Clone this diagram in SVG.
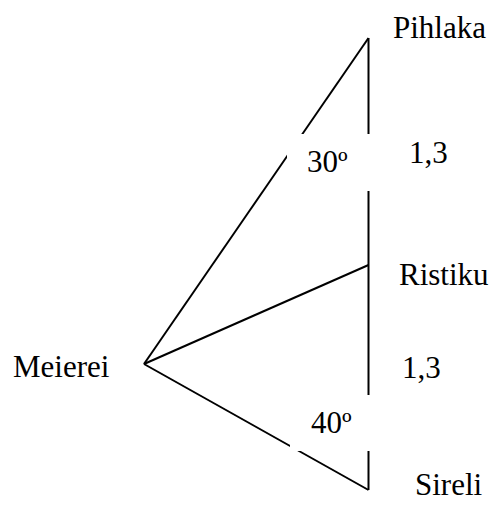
<svg xmlns="http://www.w3.org/2000/svg" width="493" height="506" viewBox="0 0 493 506">
  <style>
    .lbl { font-family: "Liberation Serif", "Times New Roman", serif; font-size: 31px; fill: #000; }
    .edge { stroke: #000; stroke-width: 2; fill: none; }
    .mask { fill: #fff; stroke: none; }
  </style>
  <rect x="0" y="0" width="493" height="506" fill="#fff"/>
  <g id="connectors">
    <line class="edge" x1="144" y1="364" x2="368.5" y2="38"/>
    <line class="edge" x1="144" y1="364" x2="368.5" y2="265"/>
    <line class="edge" x1="144" y1="364" x2="368.5" y2="490"/>
    <line class="edge" x1="368.5" y1="38" x2="368.5" y2="490"/>
  </g>
  <g id="angle-30">
    <rect class="mask" x="287" y="134" width="84" height="57"/>
    <text class="lbl" x="307" y="172">30º</text>
  </g>
  <g id="angle-40">
    <rect class="mask" x="290" y="395" width="81" height="56"/>
    <text class="lbl" x="311" y="433">40º</text>
  </g>
  <g id="dist-upper">
    <text class="lbl" x="409" y="163">1,3</text>
  </g>
  <g id="dist-lower">
    <text class="lbl" x="402" y="378">1,3</text>
  </g>
  <g id="node-meierei">
    <text class="lbl" x="13" y="377">Meierei</text>
  </g>
  <g id="node-pihlaka">
    <text class="lbl" x="393" y="38">Pihlaka</text>
  </g>
  <g id="node-ristiku">
    <text class="lbl" x="399" y="285">Ristiku</text>
  </g>
  <g id="node-sireli">
    <text class="lbl" x="415" y="495">Sireli</text>
  </g>
</svg>
